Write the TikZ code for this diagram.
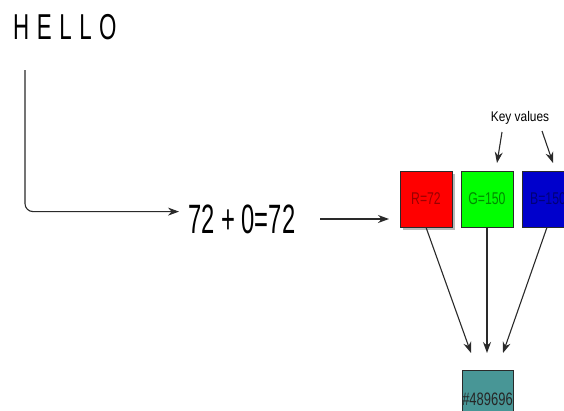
\documentclass[tikz,border=0pt]{standalone}
\usepackage{fontspec}
\usetikzlibrary{arrows.meta,calc}
\newfontfamily\hellofont[FakeStretch=0.62,LetterSpace=21]{Liberation Sans}
\newfontfamily\sumfont[FakeStretch=0.58]{Liberation Sans}
\newfontfamily\lblfont[FakeStretch=0.72]{Liberation Sans}
\newfontfamily\keyfont[FakeStretch=0.85]{Liberation Sans}
\definecolor{linegray}{HTML}{2A2A2A}
\definecolor{boxred}{HTML}{FF0000}
\definecolor{boxgreen}{HTML}{00FF00}
\definecolor{boxblue}{HTML}{0000CC}
\definecolor{txtred}{HTML}{990000}
\definecolor{txtgreen}{HTML}{008800}
\definecolor{txtblue}{HTML}{000077}
\definecolor{teal489}{HTML}{489696}
\begin{document}
\begin{tikzpicture}[x=1pt,y=-1pt,
  arr/.style={draw=linegray,line width=1.1pt,-{Stealth[length=11pt,width=8pt]}},
  colbox/.style={draw=linegray,line width=0.6pt,minimum width=52pt,minimum height=56pt,inner sep=0pt,
    font=\lblfont\fontsize{17}{19}\selectfont},
  keytxt/.style={font=\keyfont\fontsize{14}{16}\selectfont,inner sep=0pt}]
\useasboundingbox (0,0) rectangle (564,410);
\clip (0,0) rectangle (564,410);
\fill[white] (0,0) rectangle (564,410);

% title and the sum
\node[anchor=base west,inner sep=0pt,font=\hellofont\fontsize{36}{40}\selectfont] (hello) at (13,39) {HELLO};
\node[anchor=base west,inner sep=0pt,font=\sumfont\fontsize{41}{44}\selectfont] (sum) at (188,233) {72 + 0=72};

% colour channels
\fill[gray!55] (403,174) rectangle (455,230);
\node[colbox,fill=boxred,text=txtred] (red) at (426,199) {R=72};
\node[colbox,fill=boxgreen,text=txtgreen] (green) at (487,199) {G=150};
\node[colbox,fill=boxblue,text=txtblue] (blue) at (548,199) {B=150};

% resulting colour
\node[draw=linegray,line width=0.6pt,fill=teal489,minimum width=51pt,minimum height=52pt,inner sep=0pt] (teal) at (487.5,396) {};
\node[anchor=base,inner sep=0pt,font=\lblfont\fontsize{18}{20}\selectfont,text=black!85] (hex) at (487.5,405) {\#489696};

\node[keytxt,anchor=base] (key) at (520,121) {Key values};

% connector end points
\coordinate (start) at (25,70);
\coordinate (tipA) at (179,211.6);
\coordinate (s2) at (320,219);
\coordinate (t2) at (389,219);
\coordinate (k1s) at (502,132);
\coordinate (k1t) at (497,163);
\coordinate (k2s) at (542,131);
\coordinate (k2t) at (553,163);
\coordinate (b1) at (471,353);
\coordinate (b2) at (487,353);
\coordinate (b3) at (503,353);

% connectors
\draw[arr,rounded corners=8pt] (start) |- (tipA);
\draw[arr] (s2) -- (t2);
\draw[arr] (k1s) -- (k1t);
\draw[arr] (k2s) -- (k2t);
\draw[arr] (red.south) -- (b1);
\draw[arr] (green.south) -- (b2);
\draw[arr] ($(blue.south)+(-1,0)$) -- (b3);
\end{tikzpicture}
\end{document}
